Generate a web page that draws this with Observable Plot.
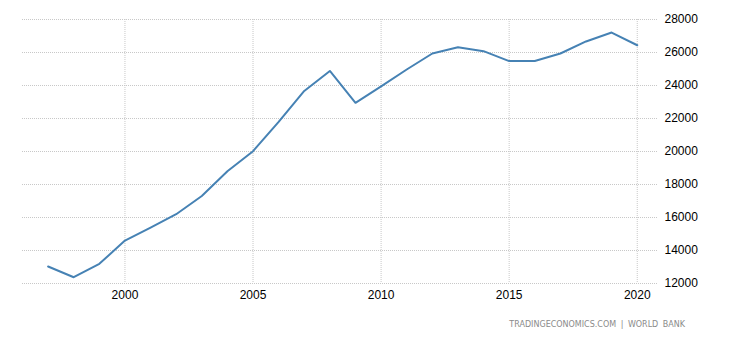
<!DOCTYPE html>
<html>
<head>
<meta charset="utf-8">
<script src="https://cdn.jsdelivr.net/npm/d3@7"></script>
<script src="https://cdn.jsdelivr.net/npm/@observablehq/plot@0.6"></script>
<style>
  html, body { margin: 0; padding: 0; background: #fff; }
  #wrap { position: relative; width: 730px; height: 340px; }
  #caption { position: absolute; left: 0; width: 685px; top: 320px; text-align: right; white-space: pre;
    font-family: "DejaVu Sans", Verdana, sans-serif; font-size: 8px; color: #8a8a8a; letter-spacing: 0px; word-spacing: 2px; }
</style>
</head>
<body>
<div id="wrap"><div id="caption"></div></div>
<script>
const years = [1997,1998,1999,2000,2001,2002,2003,2004,2005,2006,2007,2008,2009,2010,2011,2012,2013,2014,2015,2016,2017,2018,2019,2020];
const values = [13030,12380,13190,14600,15390,16200,17300,18800,20020,21800,23670,24880,22950,23950,24970,25940,26320,26080,25480,25480,25940,26670,27210,26440];
const xTicks = [2000,2005,2010,2015,2020];
const yTicks = [12000,14000,16000,18000,20000,22000,24000,26000,28000];
const captionText = "TRADINGECONOMICS.COM | WORLD BANK";

const data = years.map((y, i) => ({year: y, value: values[i]}));

const chart = Plot.plot({
  width: 730,
  height: 340,
  marginLeft: 22,
  marginRight: 72,
  marginTop: 19,
  marginBottom: 57,
  style: {fontFamily: "'Liberation Sans', Arial, sans-serif", fontSize: "11px", color: "#000", background: "#fff"},
  x: {domain: [1996, 2020.83], label: null},
  y: {domain: [12000, 28000], label: null},
  marks: [
    Plot.gridX(xTicks, {stroke: "#c8c8c8", strokeOpacity: 1, strokeDasharray: "1,1"}),
    Plot.gridY(yTicks, {stroke: "#c8c8c8", strokeOpacity: 1, strokeDasharray: "1,1"}),
    Plot.axisX(xTicks, {tickSize: 0, tickPadding: 7, fontSize: 12, fill: "#000", tickFormat: d => String(d)}),
    Plot.axisY(yTicks, {anchor: "right", tickSize: 0, tickPadding: 6, fontSize: 12, fill: "#000", tickFormat: d => String(d)}),
    Plot.line(data, {x: "year", y: "value", stroke: "#4682b4", strokeWidth: 2})
  ]
});
document.getElementById("wrap").prepend(chart);
document.getElementById("caption").textContent = captionText;
</script>
</body>
</html>
